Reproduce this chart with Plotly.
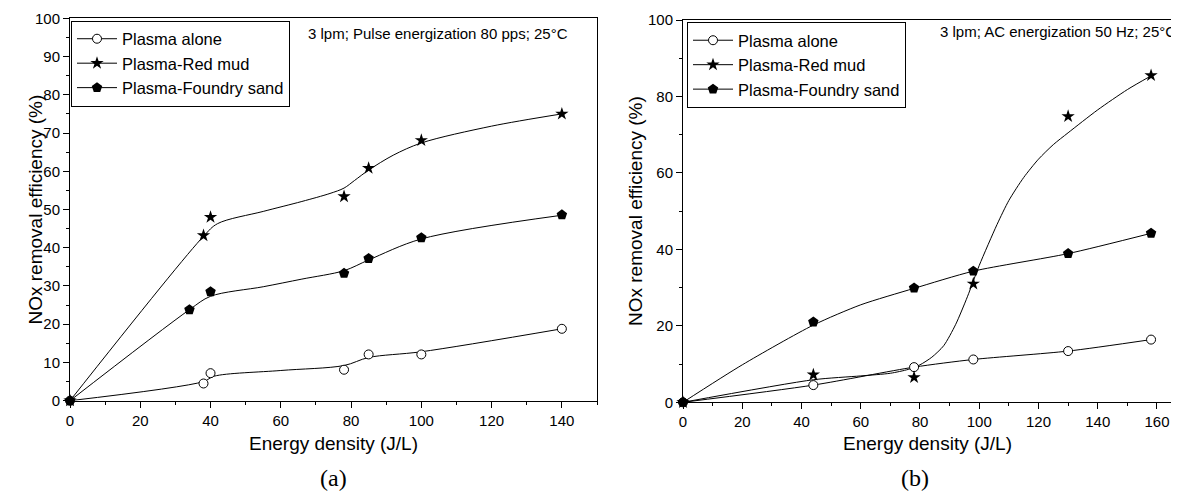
import plotly.graph_objects as go

# ---------------- data: panel (a) pulse energization ----------------
a_alone_x = [0, 38, 40, 78, 85, 100, 140]
a_alone_y = [0, 4.5, 7.2, 8.1, 12.1, 12.1, 18.8]
a_red_x = [0, 38, 40, 78, 85, 100, 140]
a_red_y = [0, 43.2, 48.0, 53.4, 60.8, 68.1, 75.0]
a_sand_x = [0, 34, 40, 78, 85, 100, 140]
a_sand_y = [0, 23.8, 28.5, 33.3, 37.2, 42.6, 48.6]

# smooth fitted curves
a_alone_fit_x = [0, 38, 41, 60, 78, 85, 100, 140]
a_alone_fit_y = [0, 5.0, 6.4, 7.9, 9.2, 11.3, 12.8, 18.8]
a_red_fit_x = [0, 38, 42, 55, 66, 74, 78, 81, 85, 92, 100, 120, 140]
a_red_fit_y = [0, 43.0, 46.3, 49.5, 52.1, 54.2, 55.6, 57.6, 60.3, 64.2, 67.4, 71.8, 75.0]
a_sand_fit_x = [0, 34, 40, 55, 66, 78, 85, 100, 140]
a_sand_fit_y = [0, 23.8, 27.3, 29.8, 31.8, 34.0, 36.8, 42.3, 48.5]

# ---------------- data: panel (b) AC energization ----------------
b_alone_x = [0, 44, 78, 98, 130, 158]
b_alone_y = [0, 4.5, 9.2, 11.2, 13.4, 16.4]
b_red_x = [0, 44, 78, 98, 130, 158]
b_red_y = [0, 7.2, 6.5, 31.0, 74.8, 85.5]
b_sand_x = [0, 44, 78, 98, 130, 158]
b_sand_y = [0, 21.0, 29.9, 34.3, 38.9, 44.2]

b_alone_fit_x = [0, 44, 78, 98, 130, 158]
b_alone_fit_y = [0, 4.5, 9.2, 11.2, 13.4, 16.4]
b_red_fit_x = [0, 44, 60, 70, 76, 80, 84, 88, 92, 96, 100, 106, 110, 115, 120, 125, 130, 140, 150, 158]
b_red_fit_y = [0, 5.9, 6.9, 7.6, 8.6, 9.8, 11.8, 14.8, 20.3, 27.6, 35.8, 46.5, 52.8, 58.8, 63.6, 67.4, 70.5, 76.5, 81.8, 85.4]
b_sand_fit_x = [0, 20, 44, 60, 78, 98, 130, 158]
b_sand_fit_y = [0, 9.8, 20.2, 25.5, 29.8, 34.3, 38.9, 44.2]

series_names = ["Plasma alone", "Plasma-Red mud", "Plasma-Foundry sand"]
conditions = ["3 lpm; Pulse energization 80 pps; 25°C", "3 lpm; AC energization 50 Hz; 25°C"]
panel_labels = ["(a)", "(b)"]
x_title = "Energy density (J/L)"
y_title = "NOx removal efficiency (%)"

W, H = 1179, 496
OFF = 8          # default page body margin in the browser
FONT = "Liberation Sans, Arial, sans-serif"

markers = [
    dict(symbol="circle", size=9, color="white", line=dict(color="black", width=1)),
    dict(symbol="star", size=10, color="black", line=dict(color="black", width=0)),
    dict(symbol="pentagon", size=11, color="black", line=dict(color="black", width=0)),
]

fig = go.Figure()

panels = [
    dict(xa="x", ya="y", legend="legend", smooth=0.9,
         pts=[(a_alone_x, a_alone_y), (a_red_x, a_red_y), (a_sand_x, a_sand_y)],
         fits=[(a_alone_fit_x, a_alone_fit_y), (a_red_fit_x, a_red_fit_y), (a_sand_fit_x, a_sand_fit_y)]),
    dict(xa="x2", ya="y2", legend="legend2", smooth=0.7,
         pts=[(b_alone_x, b_alone_y), (b_red_x, b_red_y), (b_sand_x, b_sand_y)],
         fits=[(b_alone_fit_x, b_alone_fit_y), (b_red_fit_x, b_red_fit_y), (b_sand_fit_x, b_sand_fit_y)]),
]

for p in panels:
    for i in range(3):
        fx_, fy_ = p["fits"][i]
        fig.add_trace(go.Scatter(x=fx_, y=fy_, mode="lines", xaxis=p["xa"], yaxis=p["ya"],
                                 line=dict(color="black", width=1, shape="spline", smoothing=p["smooth"]),
                                 showlegend=False, hoverinfo="skip"))
    for i in range(3):
        px_, py_ = p["pts"][i]
        fig.add_trace(go.Scatter(x=px_, y=py_, mode="markers", xaxis=p["xa"], yaxis=p["ya"],
                                 marker=markers[i], showlegend=False, cliponaxis=False))
    for i in range(3):
        fig.add_trace(go.Scatter(x=[None], y=[None], mode="lines+markers", xaxis=p["xa"], yaxis=p["ya"],
                                 name=series_names[i], marker=markers[i],
                                 line=dict(color="black", width=1), legend=p["legend"]))

axis_common = dict(showline=True, linecolor="black", linewidth=1, mirror=True,
                   ticks="outside", ticklen=6, tickwidth=1, tickcolor="black",
                   showgrid=False, zeroline=False, automargin=False,
                   tickfont=dict(family=FONT, size=15, color="black"))

# screen pixels -> paper fractions
def fx(px): return (px - OFF) / W
def fy(py): return 1 - (py - OFF) / H

fig.update_layout(
    width=W, height=H,
    margin=dict(l=0, r=0, t=0, b=0, autoexpand=False),
    paper_bgcolor="white", plot_bgcolor="white",
    font=dict(family=FONT, color="black"),
    xaxis=dict(domain=[fx(70), fx(597)], range=[0, 150], dtick=20, tick0=0,
               minor=dict(ticks="outside", ticklen=3, dtick=10, tickcolor="black"),
               anchor="y", **axis_common),
    yaxis=dict(domain=[fy(400.7), fy(18.3)], range=[0, 100], dtick=10, tick0=0,
               minor=dict(ticks="outside", ticklen=3, dtick=5, tickcolor="black"),
               anchor="x", **axis_common),
    xaxis2=dict(domain=[fx(683), fx(1171.8)], range=[0, 165], dtick=20, tick0=0,
                minor=dict(ticks="outside", ticklen=3, dtick=10, tickcolor="black"),
                anchor="y2", **axis_common),
    yaxis2=dict(domain=[fy(402.3), fy(20)], range=[0, 100], dtick=20, tick0=0,
                minor=dict(ticks="outside", ticklen=3, dtick=10, tickcolor="black"),
                anchor="x2", **axis_common),
    legend=dict(x=fx(71), y=fy(20.5), xanchor="left", yanchor="top",
                bgcolor="white", bordercolor="black", borderwidth=1,
                font=dict(family=FONT, size=16.5, color="black"),
                itemwidth=40, tracegroupgap=0),
    legend2=dict(x=fx(687), y=fy(22), xanchor="left", yanchor="top",
                 bgcolor="white", bordercolor="black", borderwidth=1,
                 font=dict(family=FONT, size=16.5, color="black"),
                 itemwidth=40, tracegroupgap=0),
)

ann = []
ann.append(dict(x=fx(306), y=fy(33), xref="paper", yref="paper", text=conditions[0],
                showarrow=False, xanchor="left", yanchor="middle",
                font=dict(family=FONT, size=15, color="black")))
ann.append(dict(x=fx(938), y=fy(32), xref="paper", yref="paper", text=conditions[1],
                showarrow=False, xanchor="left", yanchor="middle",
                font=dict(family=FONT, size=15, color="black")))
for cx, cy in [(333.5, 443), (927, 443)]:
    ann.append(dict(x=fx(cx), y=fy(cy), xref="paper", yref="paper", text=x_title,
                    showarrow=False, xanchor="center", yanchor="middle",
                    font=dict(family=FONT, size=19, color="black")))
for cx, cy in [(35, 209.5), (635, 211)]:
    ann.append(dict(x=fx(cx), y=fy(cy), xref="paper", yref="paper", text=y_title,
                    showarrow=False, xanchor="center", yanchor="middle", textangle=-90,
                    font=dict(family=FONT, size=19, color="black")))
for lbl, cx in zip(panel_labels, [333.5, 915]):
    ann.append(dict(x=fx(cx), y=fy(478), xref="paper", yref="paper", text=lbl,
                    showarrow=False, xanchor="center", yanchor="middle",
                    font=dict(family="Liberation Serif, Times New Roman, serif", size=24, color="black")))
fig.update_layout(annotations=ann)

fig.write_html("out.html")
